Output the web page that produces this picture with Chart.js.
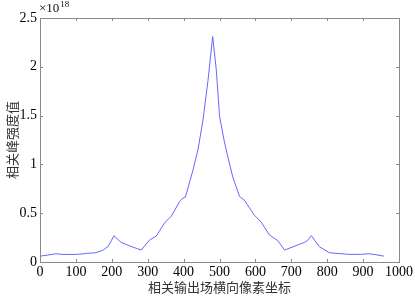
<!DOCTYPE html>
<html><head><meta charset="utf-8">
<script src="https://cdn.jsdelivr.net/npm/chart.js@4/dist/chart.umd.min.js"></script>
<style>html,body{margin:0;padding:0;background:#fff}#wrap{width:415px;height:301px;position:relative}</style>
</head><body><div id="wrap"><canvas id="c" width="415" height="301"></canvas></div>
<script>
const xValues = [0,20,45,60,87,110,130,155,175,190,206,226,250,272,282,305,324,347,366,389,398,405,426,440,454,468,481,491,500,512,523,537,556,569,597,616,639,662,681,694,722,736,745,756,778,806,861,893,917,935,958];
const yValues = [0.06,0.07,0.085,0.078,0.077,0.08,0.088,0.095,0.12,0.16,0.27,0.2,0.165,0.135,0.123,0.225,0.266,0.40,0.47,0.62,0.655,0.665,0.94,1.15,1.455,1.86,2.31,1.97,1.5,1.26,1.08,0.87,0.67,0.635,0.48,0.41,0.277,0.22,0.123,0.14,0.18,0.2,0.22,0.27,0.157,0.095,0.078,0.078,0.085,0.075,0.06];
const xTickValues = [0,100,200,300,400,500,600,700,800,900,1000];
const xTickLabels = ['0','100','200','300','400','500','600','700','800','900','1000'];
const yTickValues = [0,0.5,1,1.5,2,2.5];
const yTickLabels = ['0','0.5','1','1.5','2','2.5'];
const xTitle = '相关输出场横向像素坐标';
const yTitle = '相关峰强度值';
const exponentBase = '×10';
const exponentPow = '18';

const serif = "'Liberation Serif', 'Times New Roman', 'DejaVu Serif', serif";
const cjk = "'Noto Sans CJK SC', 'Noto Sans CJK JP', sans-serif";

const boxPlugin = {
  id: 'box',
  afterDraw(chart) {
    const {ctx, chartArea: a, scales: {x, y}} = chart;
    ctx.save();
    ctx.strokeStyle = '#8a8a8a';
    ctx.lineWidth = 1;
    ctx.strokeRect(Math.round(a.left)+0.5, Math.round(a.top)+0.5, Math.round(a.right-a.left), Math.round(a.bottom-a.top));
    const tl = 3;
    ctx.beginPath();
    xTickValues.forEach(v => {
      const px = Math.round(x.getPixelForValue(v)) + 0.5;
      ctx.moveTo(px, a.bottom); ctx.lineTo(px, a.bottom - tl);
      ctx.moveTo(px, a.top); ctx.lineTo(px, a.top + tl);
    });
    yTickValues.forEach(v => {
      const py = Math.round(y.getPixelForValue(v)) + 0.5;
      ctx.moveTo(a.left, py); ctx.lineTo(a.left + tl, py);
      ctx.moveTo(a.right, py); ctx.lineTo(a.right - tl, py);
    });
    ctx.stroke();
    ctx.fillStyle = '#111';
    ctx.textBaseline = 'alphabetic';
    ctx.textAlign = 'left';
    ctx.font = '13px ' + serif;
    ctx.fillText(exponentBase, a.left - 1, 12);
    const w = ctx.measureText(exponentBase).width;
    ctx.font = '9px ' + serif;
    ctx.fillText(exponentPow, a.left - 1 + w + 1, 7);
    ctx.restore();
  }
};

function build() {
new Chart(document.getElementById('c'), {
  type: 'line',
  data: {
    datasets: [{
      data: xValues.map((v, i) => ({x: v, y: yValues[i]})),
      borderColor: 'rgba(95,95,255,0.95)',
      borderWidth: 1,
      pointRadius: 0,
      tension: 0,
      fill: false
    }]
  },
  options: {
    responsive: false,
    animation: false,
    layout: {padding: {top: 18, right: 15, left: 0, bottom: 0}},
    plugins: {legend: {display: false}, tooltip: {enabled: false}},
    scales: {
      x: {
        type: 'linear', min: 0, max: 1000,
        afterBuildTicks(s) { s.ticks = xTickValues.map(v => ({value: v})); },
        afterFit(s) { s.height = 39; },
        grid: {display: false, drawTicks: false},
        border: {display: false},
        ticks: {padding: 2, color: '#000', font: {family: serif, size: 14}, maxRotation: 0, autoSkip: false,
          callback: (v) => { const i = xTickValues.indexOf(v); return i >= 0 ? xTickLabels[i] : ''; }},
        title: {display: true, text: xTitle, color: '#333', font: {family: cjk, size: 13}, padding: {top: 1, bottom: 6}}
      },
      y: {
        type: 'linear', min: 0, max: 2.5,
        afterBuildTicks(s) { s.ticks = yTickValues.map(v => ({value: v})); },
        afterFit(s) { s.width = 40; },
        grid: {display: false, drawTicks: false},
        border: {display: false},
        ticks: {padding: 3, color: '#000', font: {family: serif, size: 14}, autoSkip: false,
          callback: (v) => { const i = yTickValues.indexOf(v); return i >= 0 ? yTickLabels[i] : ''; }},
        title: {display: true, text: yTitle, color: '#333', font: {family: cjk, size: 13}, padding: {top: 4, bottom: 0}}
      }
    }
  },
  plugins: [boxPlugin]
});
}
Promise.all([
  document.fonts.load("14px 'Liberation Serif'"),
  document.fonts.load("13px 'Noto Sans CJK SC'", '相关')
]).then(build, build);
</script></body></html>
